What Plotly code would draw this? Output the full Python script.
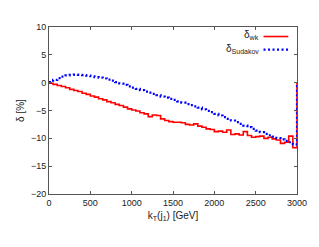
import plotly.graph_objects as go

# bin left edges (GeV), 50 GeV bins, plus closing edge at 3000
kt_edges = list(range(0, 3001, 50))

delta_wk = [
    -0.1, -0.3, -0.5, -0.7, -0.9, -1.2, -1.4, -1.6, -1.9, -2.1,
    -2.4, -2.6, -2.9, -3.1, -3.4, -3.6, -3.9, -4.1, -4.4, -4.7,
    -4.9, -5.1, -5.4, -5.6, -6.1, -5.8, -5.9, -6.5, -6.8, -7.0,
    -7.1, -7.1, -7.2, -7.5, -7.6, -7.4, -7.8, -8.0, -8.3, -8.4,
    -8.8, -8.7, -8.9, -8.5, -9.3, -9.2, -9.4, -8.8, -9.5, -9.8,
    -9.7, -9.6, -10.0, -9.8, -10.1, -10.3, -10.9, -10.7, -9.6, -11.7,
    0.0,
]

delta_sudakov = [
    0.1, 0.5, 0.8, 1.1, 1.3, 1.4, 1.45, 1.4, 1.35, 1.25,
    1.15, 1.0, 0.9, 0.75, 0.55, 0.35, 0.1, -0.15, -0.4, -0.65,
    -0.9, -1.1, -1.35, -1.6, -1.8, -2.0, -2.25, -2.5, -2.7, -2.9,
    -3.1, -3.35, -3.6, -3.85, -4.05, -4.25, -4.5, -4.8, -5.05, -5.3,
    -5.6, -5.9, -6.2, -6.5, -6.8, -7.1, -7.4, -7.7, -8.0, -8.3,
    -8.6, -8.9, -9.2, -9.45, -9.7, -9.95, -10.2, -10.45, -10.7, -11.1,
    0.0,
]

x_ticks = [0, 500, 1000, 1500, 2000, 2500, 3000]
y_ticks = [10, 5, 0, -5, -10, -15, -20]

FONT = "Liberation Sans, Arial, sans-serif"
BLUE_DASH = "2px,2.5px"

fig = go.Figure()
fig.add_trace(go.Scatter(x=kt_edges, y=delta_wk, mode="lines", line_shape="hv",
                         line=dict(color="#ff0000", width=1.6), showlegend=False))
fig.add_trace(go.Scatter(x=kt_edges, y=delta_sudakov, mode="lines", line_shape="hv",
                         line=dict(color="#0000ff", width=2.2, dash=BLUE_DASH), showlegend=False))

# legend (text right-aligned, sample to the right as in gnuplot)
fig.add_annotation(xref="paper", yref="paper", x=0.855, y=0.95, xanchor="right", yanchor="middle",
                   text="δ<sub>wk</sub>", showarrow=False, font=dict(size=10, color="#222", family=FONT))
fig.add_annotation(xref="paper", yref="paper", x=0.855, y=0.868, xanchor="right", yanchor="middle",
                   text="δ<sub>Sudakov</sub>", showarrow=False, font=dict(size=10, color="#222", family=FONT))
fig.add_shape(type="line", xref="paper", yref="paper", x0=0.865, x1=0.965, y0=0.943, y1=0.943,
              line=dict(color="#ff0000", width=1.6))
fig.add_shape(type="line", xref="paper", yref="paper", x0=0.865, x1=0.965, y0=0.865, y1=0.865,
              line=dict(color="#0000ff", width=2.2, dash=BLUE_DASH))

# page body has an 8px margin: size/margins compensate so the plot lands where the reference has it
fig.update_layout(
    width=311, height=239,
    margin=dict(l=37, r=19, t=19, b=53),
    paper_bgcolor="white", plot_bgcolor="white",
    font=dict(family=FONT, size=9, color="#222"),
)
fig.update_xaxes(range=[0, 3000], tickvals=x_ticks, ticks="inside", ticklen=3, tickcolor="#555",
                 showgrid=False, zeroline=False, showline=True, linecolor="#555", linewidth=1, mirror="ticks",
                 title=dict(text="k<sub>T</sub>(j<sub>1</sub>) [GeV]", font=dict(size=10), standoff=5),
                 tickfont=dict(size=9))
fig.update_yaxes(range=[-20, 10], tickvals=y_ticks, ticks="inside", ticklen=3, tickcolor="#555",
                 showgrid=False, zeroline=False, showline=True, linecolor="#555", linewidth=1, mirror="ticks",
                 title=dict(text="δ [%]", font=dict(size=10), standoff=4),
                 tickfont=dict(size=9))

fig.write_html("out.html")
